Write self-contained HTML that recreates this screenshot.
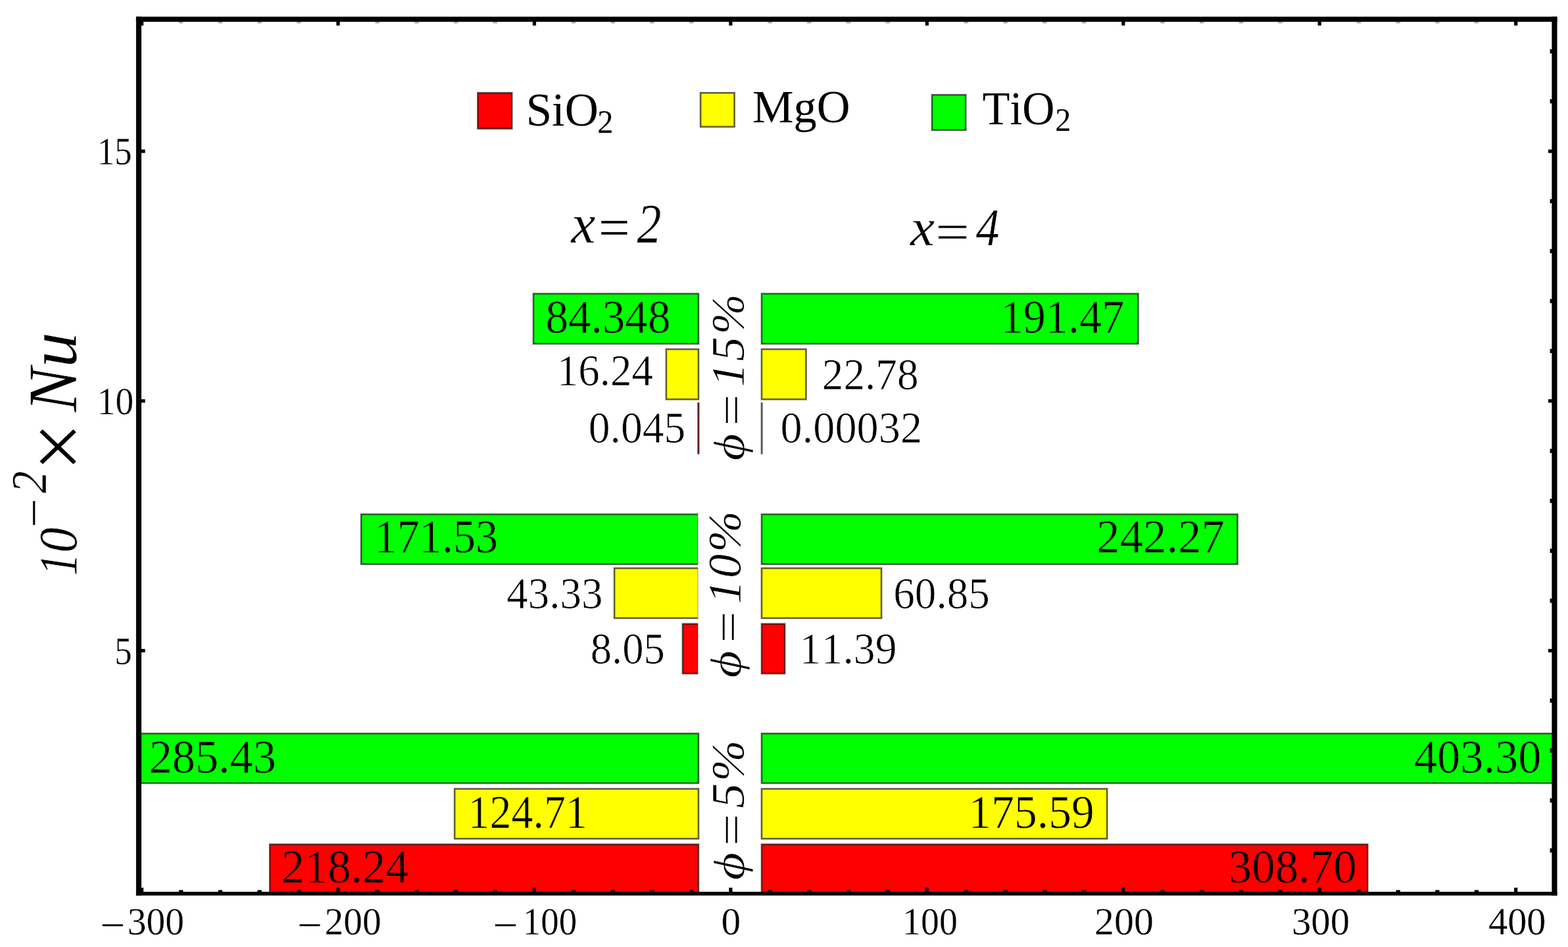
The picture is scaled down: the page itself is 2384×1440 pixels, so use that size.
<!DOCTYPE html>
<html lang="en">
<head>
<meta charset="utf-8">
<title>Nusselt number bar chart</title>
<style>
html,body{margin:0;padding:0;background:#ffffff;}
body{width:2384px;height:1440px;overflow:hidden;}
svg{display:block;filter:blur(0.7px);font-family:"Liberation Serif",serif;font-kerning:none;}
</style>
</head>
<body>
<svg width="2384" height="1440" viewBox="0 0 2384 1440">
<rect width="2384" height="1440" fill="#ffffff"/>
<g id="bars">
<rect x="811" y="446.6" width="251" height="76.1" fill="#00ff00" stroke="#000" stroke-opacity="0.62" stroke-width="2.6"/>
<rect x="1012.9" y="531" width="49.1" height="76.2" fill="#ffff00" stroke="#000" stroke-opacity="0.62" stroke-width="2.6"/>
<rect x="1158" y="446.6" width="572.5" height="76.1" fill="#00ff00" stroke="#000" stroke-opacity="0.62" stroke-width="2.6"/>
<rect x="1158" y="531" width="67.5" height="76.2" fill="#ffff00" stroke="#000" stroke-opacity="0.62" stroke-width="2.6"/>
<rect x="549.1" y="782" width="512.9" height="75.9" fill="#00ff00" stroke="#000" stroke-opacity="0.62" stroke-width="2.6"/>
<rect x="934.1" y="864" width="127.9" height="75.9" fill="#ffff00" stroke="#000" stroke-opacity="0.62" stroke-width="2.6"/>
<rect x="1037.9" y="948.7" width="24.1" height="75.5" fill="#ff0000" stroke="#000" stroke-opacity="0.62" stroke-width="2.6"/>
<rect x="1158" y="782" width="723.5" height="75.9" fill="#00ff00" stroke="#000" stroke-opacity="0.62" stroke-width="2.6"/>
<rect x="1158" y="864" width="182.1" height="75.9" fill="#ffff00" stroke="#000" stroke-opacity="0.62" stroke-width="2.6"/>
<rect x="1158" y="948.7" width="35.2" height="75.5" fill="#ff0000" stroke="#000" stroke-opacity="0.62" stroke-width="2.6"/>
<rect x="210.2" y="1115.4" width="851.8" height="75.4" fill="#00ff00" stroke="#000" stroke-opacity="0.62" stroke-width="2.6"/>
<rect x="691.2" y="1199.5" width="370.8" height="75.8" fill="#ffff00" stroke="#000" stroke-opacity="0.62" stroke-width="2.6"/>
<rect x="410.2" y="1283.9" width="651.8" height="74.9" fill="#ff0000" stroke="#000" stroke-opacity="0.62" stroke-width="2.6"/>
<rect x="1158" y="1115.4" width="1205.8" height="75.4" fill="#00ff00" stroke="#000" stroke-opacity="0.62" stroke-width="2.6"/>
<rect x="1158" y="1199.5" width="525.2" height="75.8" fill="#ffff00" stroke="#000" stroke-opacity="0.62" stroke-width="2.6"/>
<rect x="1158" y="1283.9" width="921.3" height="74.9" fill="#ff0000" stroke="#000" stroke-opacity="0.62" stroke-width="2.6"/>
<rect x="1061.3" y="778" width="5" height="250" fill="#ffffff"/>
<rect x="1060.4" y="612.0" width="3.0" height="78.6" fill="#5e2020"/>
<rect x="1156.7" y="612.0" width="3.0" height="78.6" fill="#5c5c5c"/>
</g>
<g id="legend-swatches">
<rect x="726.4" y="141.2" width="51.9" height="54.4" fill="#ff0000" stroke="#000" stroke-opacity="0.62" stroke-width="2.6"/>
<rect x="1065.1" y="141.2" width="51.5" height="51.6" fill="#ffff00" stroke="#000" stroke-opacity="0.62" stroke-width="2.6"/>
<rect x="1417" y="144.2" width="51.3" height="53.6" fill="#00ff00" stroke="#000" stroke-opacity="0.62" stroke-width="2.6"/>
</g>
<g id="frame" fill="#000">
<rect x="206.9" y="25.4" width="8.1" height="1336.3"/>
<rect x="2359.4" y="25.4" width="8.1" height="1336.3"/>
<rect x="206.9" y="25.4" width="2160.6" height="7.8"/>
<rect x="206.9" y="1356" width="2160.6" height="5.7"/>
</g>
<g id="ticks" fill="#000">
<rect x="212.95" y="1349.8" width="5.2" height="7.2"/>
<rect x="212.95" y="32.2" width="5.2" height="6.6"/>
<rect x="272.04" y="1353.4" width="6.4" height="3.6"/>
<rect x="272.04" y="32.2" width="6.4" height="3.4" fill-opacity="0.3"/>
<rect x="331.73" y="1353.4" width="6.4" height="3.6"/>
<rect x="331.73" y="32.2" width="6.4" height="3.4" fill-opacity="0.3"/>
<rect x="391.42" y="1353.4" width="6.4" height="3.6"/>
<rect x="391.42" y="32.2" width="6.4" height="3.4" fill-opacity="0.3"/>
<rect x="451.11" y="1353.4" width="6.4" height="3.6"/>
<rect x="451.11" y="32.2" width="6.4" height="3.4" fill-opacity="0.3"/>
<rect x="511.4" y="1349.8" width="5.2" height="7.2"/>
<rect x="511.4" y="32.2" width="5.2" height="6.6"/>
<rect x="570.49" y="1353.4" width="6.4" height="3.6"/>
<rect x="570.49" y="32.2" width="6.4" height="3.4" fill-opacity="0.3"/>
<rect x="630.18" y="1353.4" width="6.4" height="3.6"/>
<rect x="630.18" y="32.2" width="6.4" height="3.4" fill-opacity="0.3"/>
<rect x="689.87" y="1353.4" width="6.4" height="3.6"/>
<rect x="689.87" y="32.2" width="6.4" height="3.4" fill-opacity="0.3"/>
<rect x="749.56" y="1353.4" width="6.4" height="3.6"/>
<rect x="749.56" y="32.2" width="6.4" height="3.4" fill-opacity="0.3"/>
<rect x="809.85" y="1349.8" width="5.2" height="7.2"/>
<rect x="809.85" y="32.2" width="5.2" height="6.6"/>
<rect x="868.94" y="1353.4" width="6.4" height="3.6"/>
<rect x="868.94" y="32.2" width="6.4" height="3.4" fill-opacity="0.3"/>
<rect x="928.63" y="1353.4" width="6.4" height="3.6"/>
<rect x="928.63" y="32.2" width="6.4" height="3.4" fill-opacity="0.3"/>
<rect x="988.32" y="1353.4" width="6.4" height="3.6"/>
<rect x="988.32" y="32.2" width="6.4" height="3.4" fill-opacity="0.3"/>
<rect x="1048.01" y="1353.4" width="6.4" height="3.6"/>
<rect x="1048.01" y="32.2" width="6.4" height="3.4" fill-opacity="0.3"/>
<rect x="1108.3" y="1349.8" width="5.2" height="7.2"/>
<rect x="1108.3" y="32.2" width="5.2" height="6.6"/>
<rect x="1167.39" y="1353.4" width="6.4" height="3.6"/>
<rect x="1167.39" y="32.2" width="6.4" height="3.4" fill-opacity="0.3"/>
<rect x="1227.08" y="1353.4" width="6.4" height="3.6"/>
<rect x="1227.08" y="32.2" width="6.4" height="3.4" fill-opacity="0.3"/>
<rect x="1286.77" y="1353.4" width="6.4" height="3.6"/>
<rect x="1286.77" y="32.2" width="6.4" height="3.4" fill-opacity="0.3"/>
<rect x="1346.46" y="1353.4" width="6.4" height="3.6"/>
<rect x="1346.46" y="32.2" width="6.4" height="3.4" fill-opacity="0.3"/>
<rect x="1406.75" y="1349.8" width="5.2" height="7.2"/>
<rect x="1406.75" y="32.2" width="5.2" height="6.6"/>
<rect x="1465.84" y="1353.4" width="6.4" height="3.6"/>
<rect x="1465.84" y="32.2" width="6.4" height="3.4" fill-opacity="0.3"/>
<rect x="1525.53" y="1353.4" width="6.4" height="3.6"/>
<rect x="1525.53" y="32.2" width="6.4" height="3.4" fill-opacity="0.3"/>
<rect x="1585.22" y="1353.4" width="6.4" height="3.6"/>
<rect x="1585.22" y="32.2" width="6.4" height="3.4" fill-opacity="0.3"/>
<rect x="1644.91" y="1353.4" width="6.4" height="3.6"/>
<rect x="1644.91" y="32.2" width="6.4" height="3.4" fill-opacity="0.3"/>
<rect x="1705.2" y="1349.8" width="5.2" height="7.2"/>
<rect x="1705.2" y="32.2" width="5.2" height="6.6"/>
<rect x="1764.29" y="1353.4" width="6.4" height="3.6"/>
<rect x="1764.29" y="32.2" width="6.4" height="3.4" fill-opacity="0.3"/>
<rect x="1823.98" y="1353.4" width="6.4" height="3.6"/>
<rect x="1823.98" y="32.2" width="6.4" height="3.4" fill-opacity="0.3"/>
<rect x="1883.67" y="1353.4" width="6.4" height="3.6"/>
<rect x="1883.67" y="32.2" width="6.4" height="3.4" fill-opacity="0.3"/>
<rect x="1943.36" y="1353.4" width="6.4" height="3.6"/>
<rect x="1943.36" y="32.2" width="6.4" height="3.4" fill-opacity="0.3"/>
<rect x="2003.65" y="1349.8" width="5.2" height="7.2"/>
<rect x="2003.65" y="32.2" width="5.2" height="6.6"/>
<rect x="2062.74" y="1353.4" width="6.4" height="3.6"/>
<rect x="2062.74" y="32.2" width="6.4" height="3.4" fill-opacity="0.3"/>
<rect x="2122.43" y="1353.4" width="6.4" height="3.6"/>
<rect x="2122.43" y="32.2" width="6.4" height="3.4" fill-opacity="0.3"/>
<rect x="2182.12" y="1353.4" width="6.4" height="3.6"/>
<rect x="2182.12" y="32.2" width="6.4" height="3.4" fill-opacity="0.3"/>
<rect x="2241.81" y="1353.4" width="6.4" height="3.6"/>
<rect x="2241.81" y="32.2" width="6.4" height="3.4" fill-opacity="0.3"/>
<rect x="2302.1" y="1349.8" width="5.2" height="7.2"/>
<rect x="2302.1" y="32.2" width="5.2" height="6.6"/>
<rect x="2356.6" y="1289.96" width="3.8" height="6.4"/>
<rect x="2356.6" y="1214.02" width="3.8" height="6.4"/>
<rect x="2356.6" y="1138.08" width="3.8" height="6.4"/>
<rect x="2356.6" y="1062.14" width="3.8" height="6.4"/>
<rect x="214" y="986.8" width="6.6" height="5.2"/>
<rect x="2354" y="986.8" width="6.4" height="5.2"/>
<rect x="2356.6" y="910.26" width="3.8" height="6.4"/>
<rect x="2356.6" y="834.32" width="3.8" height="6.4"/>
<rect x="2356.6" y="758.38" width="3.8" height="6.4"/>
<rect x="2356.6" y="682.44" width="3.8" height="6.4"/>
<rect x="214" y="607.1" width="6.6" height="5.2"/>
<rect x="2354" y="607.1" width="6.4" height="5.2"/>
<rect x="2356.6" y="530.56" width="3.8" height="6.4"/>
<rect x="2356.6" y="454.62" width="3.8" height="6.4"/>
<rect x="2356.6" y="378.68" width="3.8" height="6.4"/>
<rect x="2356.6" y="302.74" width="3.8" height="6.4"/>
<rect x="214" y="227.4" width="6.6" height="5.2"/>
<rect x="2354" y="227.4" width="6.4" height="5.2"/>
<rect x="2356.6" y="150.86" width="3.8" height="6.4"/>
<rect x="2356.6" y="74.92" width="3.8" height="6.4"/>
</g>
<g id="labels" fill="#000">
<text id="xl-300" stroke="#ffffff" stroke-width="0.3" stroke-linejoin="round"><tspan x="152.23" y="1428.61" font-size="66.3" textLength="38.18" lengthAdjust="spacingAndGlyphs">−</tspan><tspan x="193.75" y="1421.3" font-size="59.2" textLength="86.24" lengthAdjust="spacingAndGlyphs">300</tspan></text>
<text id="xl-200" stroke="#ffffff" stroke-width="0.3" stroke-linejoin="round"><tspan x="452.13" y="1428.61" font-size="66.3" textLength="38.18" lengthAdjust="spacingAndGlyphs">−</tspan><tspan x="493.57" y="1421.3" font-size="59.2" textLength="86.21" lengthAdjust="spacingAndGlyphs">200</tspan></text>
<text id="xl-100" stroke="#ffffff" stroke-width="0.3" stroke-linejoin="round"><tspan x="749.63" y="1428.61" font-size="66.3" textLength="38.18" lengthAdjust="spacingAndGlyphs">−</tspan><tspan x="794.77" y="1421.3" font-size="59.2" textLength="82.42" lengthAdjust="spacingAndGlyphs">100</tspan></text>
<text id="xl0" stroke="#ffffff" stroke-width="0.3" stroke-linejoin="round"><tspan x="1096.54" y="1421.3" font-size="59.2" textLength="29.73" lengthAdjust="spacingAndGlyphs">0</tspan></text>
<text id="xl100" stroke="#ffffff" stroke-width="0.3" stroke-linejoin="round"><tspan x="1371.99" y="1421.3" font-size="59.2" textLength="83.84" lengthAdjust="spacingAndGlyphs">100</tspan></text>
<text id="xl200" stroke="#ffffff" stroke-width="0.3" stroke-linejoin="round"><tspan x="1663.96" y="1421.3" font-size="59.2" textLength="90.02" lengthAdjust="spacingAndGlyphs">200</tspan></text>
<text id="xl300" stroke="#ffffff" stroke-width="0.3" stroke-linejoin="round"><tspan x="1963.99" y="1421.3" font-size="59.2" textLength="88.15" lengthAdjust="spacingAndGlyphs">300</tspan></text>
<text id="xl400" stroke="#ffffff" stroke-width="0.3" stroke-linejoin="round"><tspan x="2263.06" y="1421.3" font-size="59.2" textLength="87.36" lengthAdjust="spacingAndGlyphs">400</tspan></text>
<text id="yl15" stroke="#ffffff" stroke-width="0.3" stroke-linejoin="round"><tspan x="147.99" y="250.3" font-size="59.2" textLength="52.46" lengthAdjust="spacingAndGlyphs">15</tspan></text>
<text id="yl10" stroke="#ffffff" stroke-width="0.3" stroke-linejoin="round"><tspan x="147.73" y="630.3" font-size="59.2" textLength="55.38" lengthAdjust="spacingAndGlyphs">10</tspan></text>
<text id="yl5" stroke="#ffffff" stroke-width="0.3" stroke-linejoin="round"><tspan x="174.14" y="1009.7" font-size="59.2" textLength="26.31" lengthAdjust="spacingAndGlyphs">5</tspan></text>
<text id="v0" stroke="#00ff00" stroke-width="0.7" stroke-linejoin="round"><tspan x="829.47" y="506.35" font-size="71.3" textLength="189.96" lengthAdjust="spacingAndGlyphs">84.348</tspan></text>
<text id="v1" stroke="#ffffff" stroke-width="0.7" stroke-linejoin="round"><tspan x="846.79" y="586.28" font-size="68" textLength="146.12" lengthAdjust="spacingAndGlyphs">16.24</tspan></text>
<text id="v2" stroke="#ffffff" stroke-width="0.7" stroke-linejoin="round"><tspan x="894.8" y="673.18" font-size="68" textLength="147.56" lengthAdjust="spacingAndGlyphs">0.045</tspan></text>
<text id="v3" stroke="#00ff00" stroke-width="0.7" stroke-linejoin="round"><tspan x="1521.6" y="506.25" font-size="71.3" textLength="187.77" lengthAdjust="spacingAndGlyphs">191.47</tspan></text>
<text id="v4" stroke="#ffffff" stroke-width="0.7" stroke-linejoin="round"><tspan x="1249.73" y="591.63" font-size="68" textLength="146.96" lengthAdjust="spacingAndGlyphs">22.78</tspan></text>
<text id="v5" stroke="#ffffff" stroke-width="0.7" stroke-linejoin="round"><tspan x="1186.57" y="673.18" font-size="68" textLength="215.48" lengthAdjust="spacingAndGlyphs">0.00032</tspan></text>
<text id="v6" stroke="#00ff00" stroke-width="0.7" stroke-linejoin="round"><tspan x="569.6" y="839.8" font-size="71.3" textLength="187.66" lengthAdjust="spacingAndGlyphs">171.53</tspan></text>
<text id="v7" stroke="#ffffff" stroke-width="0.7" stroke-linejoin="round"><tspan x="770.13" y="924.63" font-size="68" textLength="146.41" lengthAdjust="spacingAndGlyphs">43.33</tspan></text>
<text id="v8" stroke="#ffffff" stroke-width="0.7" stroke-linejoin="round"><tspan x="897.74" y="1009.08" font-size="68" textLength="113.19" lengthAdjust="spacingAndGlyphs">8.05</tspan></text>
<text id="v9" stroke="#00ff00" stroke-width="0.7" stroke-linejoin="round"><tspan x="1667.29" y="839.8" font-size="71.3" textLength="194.55" lengthAdjust="spacingAndGlyphs">242.27</tspan></text>
<text id="v10" stroke="#ffffff" stroke-width="0.7" stroke-linejoin="round"><tspan x="1358.2" y="924.63" font-size="68" textLength="146.75" lengthAdjust="spacingAndGlyphs">60.85</tspan></text>
<text id="v11" stroke="#ffffff" stroke-width="0.7" stroke-linejoin="round"><tspan x="1215.62" y="1008.73" font-size="68" textLength="147.98" lengthAdjust="spacingAndGlyphs">11.39</tspan></text>
<text id="v12" stroke="#00ff00" stroke-width="0.7" stroke-linejoin="round"><tspan x="226.71" y="1175.2" font-size="71.3" textLength="193.13" lengthAdjust="spacingAndGlyphs">285.43</tspan></text>
<text id="v13" stroke="#ffff00" stroke-width="0.7" stroke-linejoin="round"><tspan x="711.5" y="1258.95" font-size="71.3" textLength="181.46" lengthAdjust="spacingAndGlyphs">124.71</tspan></text>
<text id="v14" stroke="#ff0000" stroke-width="0.7" stroke-linejoin="round"><tspan x="427.7" y="1341.7" font-size="71.3" textLength="193.8" lengthAdjust="spacingAndGlyphs">218.24</tspan></text>
<text id="v15" stroke="#00ff00" stroke-width="0.7" stroke-linejoin="round"><tspan x="2149.93" y="1175.2" font-size="71.3" textLength="193.45" lengthAdjust="spacingAndGlyphs">403.30</tspan></text>
<text id="v16" stroke="#ffff00" stroke-width="0.7" stroke-linejoin="round"><tspan x="1472.49" y="1259.1" font-size="71.3" textLength="191.27" lengthAdjust="spacingAndGlyphs">175.59</tspan></text>
<text id="v17" stroke="#ff0000" stroke-width="0.7" stroke-linejoin="round"><tspan x="1867.81" y="1341.7" font-size="71.3" textLength="194.89" lengthAdjust="spacingAndGlyphs">308.70</tspan></text>
<text id="lg1"><tspan x="799.66" y="191.3" font-size="71.5" textLength="110.24" lengthAdjust="spacingAndGlyphs">SiO</tspan><tspan x="908.37" y="202.2" font-size="50.5" textLength="24.2" lengthAdjust="spacingAndGlyphs">2</tspan></text>
<text id="lg2"><tspan x="1143.97" y="186" font-size="69" textLength="148.72" lengthAdjust="spacingAndGlyphs">MgO</tspan></text>
<text id="lg3"><tspan x="1493.77" y="188.8" font-size="71.5" textLength="109.83" lengthAdjust="spacingAndGlyphs">TiO</tspan><tspan x="1604.28" y="199.2" font-size="50.5" textLength="24.07" lengthAdjust="spacingAndGlyphs">2</tspan></text>
<text id="x2" font-style="italic" stroke="#ffffff" stroke-width="0.4" stroke-linejoin="round"><tspan x="868.42" y="368.5" font-size="84" textLength="36.99" lengthAdjust="spacingAndGlyphs">x</tspan><tspan x="904.24" y="375" font-size="84" textLength="57.86" lengthAdjust="spacingAndGlyphs">=</tspan><tspan x="968.46" y="368.5" font-size="84" textLength="36.96" lengthAdjust="spacingAndGlyphs">2</tspan></text>
<text id="x4" font-style="italic" stroke="#ffffff" stroke-width="0.4" stroke-linejoin="round"><tspan x="1383.92" y="373.4" font-size="81" textLength="36.99" lengthAdjust="spacingAndGlyphs">x</tspan><tspan x="1416.51" y="379.6" font-size="81" textLength="61.63" lengthAdjust="spacingAndGlyphs">=</tspan><tspan x="1483.83" y="373.4" font-size="81" textLength="35.78" lengthAdjust="spacingAndGlyphs">4</tspan></text>
<text id="g15" transform="translate(1131 699.2) rotate(-90)" font-style="italic" stroke="#ffffff" stroke-width="0.6" stroke-linejoin="round"><tspan x="-1.23" y="0" font-size="64.5" textLength="41.3" lengthAdjust="spacingAndGlyphs">ϕ</tspan><tspan x="46.32" y="4.6" font-size="69" textLength="57.43" lengthAdjust="spacingAndGlyphs">=</tspan><tspan x="110.7" y="0" font-size="71" textLength="36.42" lengthAdjust="spacingAndGlyphs">1</tspan><tspan x="150.04" y="0" font-size="71" textLength="37.18" lengthAdjust="spacingAndGlyphs">5</tspan><tspan x="190.77" y="0" font-size="71" textLength="61.66" lengthAdjust="spacingAndGlyphs">%</tspan></text>
<text id="g10" transform="translate(1126 1029.4) rotate(-90)" font-style="italic" stroke="#ffffff" stroke-width="0.6" stroke-linejoin="round"><tspan x="-1.24" y="0" font-size="64.5" textLength="41.41" lengthAdjust="spacingAndGlyphs">ϕ</tspan><tspan x="46.32" y="5.4" font-size="69" textLength="57.43" lengthAdjust="spacingAndGlyphs">=</tspan><tspan x="110.8" y="0" font-size="71" textLength="36.42" lengthAdjust="spacingAndGlyphs">1</tspan><tspan x="150.38" y="0" font-size="71" textLength="36.55" lengthAdjust="spacingAndGlyphs">0</tspan><tspan x="189.68" y="0" font-size="71" textLength="62.93" lengthAdjust="spacingAndGlyphs">%</tspan></text>
<text id="g5" transform="translate(1131 1337.2) rotate(-90)" font-style="italic" stroke="#ffffff" stroke-width="0.6" stroke-linejoin="round"><tspan x="-1.28" y="0" font-size="64.5" textLength="42.51" lengthAdjust="spacingAndGlyphs">ϕ</tspan><tspan x="45.2" y="4.6" font-size="69" textLength="58.73" lengthAdjust="spacingAndGlyphs">=</tspan><tspan x="108.3" y="0" font-size="71" textLength="38.28" lengthAdjust="spacingAndGlyphs">5</tspan><tspan x="148.89" y="0" font-size="71" textLength="62.82" lengthAdjust="spacingAndGlyphs">%</tspan></text>
<text id="ytitle" transform="translate(116 873.8) rotate(-90)" font-style="italic" stroke="#ffffff" stroke-width="0.5" stroke-linejoin="round"><tspan x="-1.78" y="0" font-size="83" textLength="34.11" lengthAdjust="spacingAndGlyphs">1</tspan><tspan x="33.43" y="0" font-size="83" textLength="38.44" lengthAdjust="spacingAndGlyphs">0</tspan><tspan x="66.03" y="-39.1" font-size="76.5" textLength="53.22" lengthAdjust="spacingAndGlyphs">−</tspan><tspan x="123.87" y="-45.8" font-size="76.5" textLength="33.82" lengthAdjust="spacingAndGlyphs">2</tspan><tspan x="148.81" y="17.81" font-size="137" textLength="88.93" lengthAdjust="spacingAndGlyphs">×</tspan><tspan x="247.34" y="0" font-size="106" textLength="67.74" lengthAdjust="spacingAndGlyphs">N</tspan><tspan x="314.81" y="0" font-size="106" textLength="54.1" lengthAdjust="spacingAndGlyphs">u</tspan></text>
</g>
</svg>
</body>
</html>
